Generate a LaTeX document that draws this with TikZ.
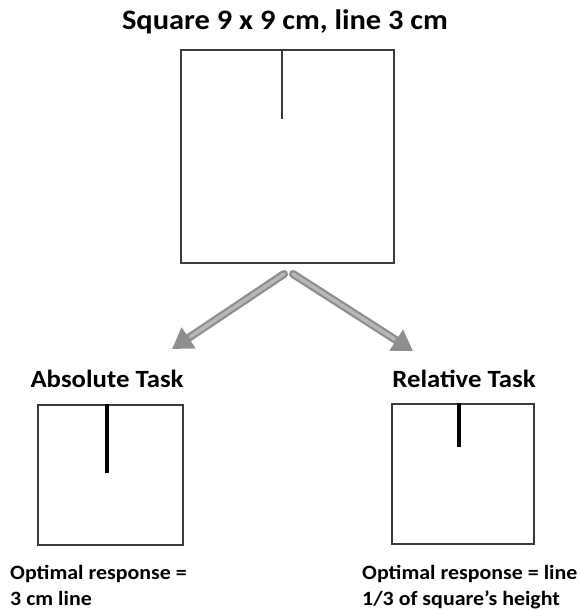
\documentclass[tikz,border=0pt]{standalone}
\usepackage{fontspec}
\setmainfont{Carlito}
\newfontfamily\widefont[FakeStretch=1.08]{Carlito}
\usetikzlibrary{arrows.meta}
\definecolor{frameclr}{HTML}{3A3A3A}
\definecolor{arrowedge}{HTML}{8E8E8E}
\definecolor{arrowfill}{HTML}{B8B8B8}
\tikzset{
  frame/.style={draw=frameclr, line width=2pt, anchor=north west, inner sep=0pt},
  titletext/.style={font=\widefont\fontsize{28.2}{33}\selectfont\bfseries, anchor=base, inner sep=0pt},
  tasktext/.style={font=\widefont\fontsize{24.8}{29}\selectfont\bfseries, anchor=base, inner sep=0pt},
  notetext/.style={font=\widefont\fontsize{20.3}{25}\selectfont\bfseries, anchor=base west, inner sep=0pt},
  stimline/.style={draw=frameclr, line width=2pt},
  respline/.style={draw=black, line width=4pt},
  bigarrow/.style={draw=arrowedge, line width=8pt, line cap=round,
    -{Triangle[length=20pt,width=24pt]}},
  arrowcore/.style={draw=arrowfill, line width=3.5pt, line cap=round}
}
\begin{document}
\begin{tikzpicture}[x=1pt,y=-1pt]
\useasboundingbox[fill=white] (0,0) rectangle (580,610);

% stimulus square with its 3 cm line
\node[titletext] (title) at (285,30) {Square 9 x 9 cm, line 3 cm};
\node[frame, minimum width=213pt, minimum height=213pt] (big) at (180,49) {};
\coordinate (bigtop) at (282,49);
\coordinate (bigend) at (282,119);
\draw[stimline] (bigtop) -- (bigend);

% arrows towards the two tasks
\coordinate (la) at (284,274);
\coordinate (lb) at (172,349);
\coordinate (ra) at (293,274);
\coordinate (rb) at (413,351);
\draw[bigarrow] (la) -- (lb);
\draw[arrowcore, shorten >=22pt] (la) -- (lb);
\draw[bigarrow] (ra) -- (rb);
\draw[arrowcore, shorten >=22pt] (ra) -- (rb);

% absolute task
\node[tasktext] (abs) at (107,387) {Absolute Task};
\node[frame, minimum width=145pt, minimum height=140pt] (abssq) at (37,404) {};
\coordinate (abstop) at (107,404);
\coordinate (absend) at (107,473);
\draw[respline] (abstop) -- (absend);
\node[notetext] (absnote1) at (10,579) {Optimal response =};
\node[notetext] (absnote2) at (10,605) {3 cm line};

% relative task
\node[tasktext] (rel) at (464,387) {Relative Task};
\node[frame, minimum width=142pt, minimum height=140pt] (relsq) at (391,403) {};
\coordinate (reltop) at (459,403);
\coordinate (relend) at (459,447);
\draw[respline] (reltop) -- (relend);
\node[notetext] (relnote1) at (362,579) {Optimal response = line};
\node[notetext] (relnote2) at (362,605) {1/3 of square’s height};
\end{tikzpicture}
\end{document}
